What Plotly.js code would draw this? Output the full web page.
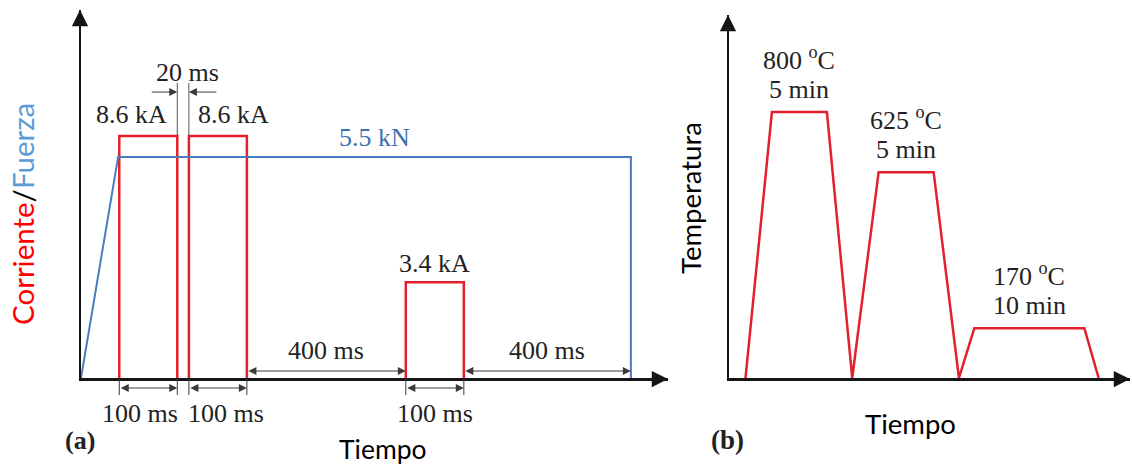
<!DOCTYPE html>
<html>
<head>
<meta charset="utf-8">
<script src="https://cdn.plot.ly/plotly-3.0.1.min.js"></script>
<style>
  html, body { margin: 0; padding: 0; background: #fff; }
  #chart { width: 1132px; height: 468px; }
</style>
</head>
<body>
<div id="chart"></div>
<script>
// ---- (a) weld schedule: current pulses and electrode force ----
// time in ms; the two 400 ms idle stretches are drawn shortened (schematic)
const pulseStart = [66, 186, 560];
const pulseEnd   = [166, 286, 660];
const pulseKA    = [8.6, 8.6, 3.4];
const forceT     = [0, 64, 948, 948];
const forceKN    = [0, 5.5, 5.5, 0];
const idleMs     = [400, 400];

// ---- (b) heat treatment cycle ----
const heatMin = [1.5, 3.9, 8.9, 11.2, 13.6, 18.6, 20.9, 22.3, 32.3, 33.6];
const heatC   = [25, 800, 800, 25, 625, 625, 25, 170, 170, 25];
const holdC   = [800, 625, 170];
const holdMin = [5, 5, 10];
const holdIdx = [1, 4, 7];   // first point of each hold in heatMin/heatC

// ---- page geometry (pixels) ----
const W = 1132, H = 468;
const px = x => x / W;
const py = y => 1 - y / H;
const A = {l: 81, r: 668, t: 10, b: 378};
const B = {l: 729, r: 1130, t: 15, b: 378};
const tMaxA = 1012, iMax = 13.08, fMax = 9.16;
const tMaxB = 36.45, cMin = 25, cMax = 1083;
const kA = p => p * iMax / (A.b - A.t);   // pixel offset -> kA units
const kN = p => p * fMax / (A.b - A.t);   // pixel offset -> kN units

const RED = '#e3202c', BLUE = '#4a7cbc', INK = '#151515', DIM = '#3a3a3a', TXT = '#222';
const SERIF = 'Liberation Serif, Times New Roman, serif';
const SANS = 'Lato, Open Sans, sans-serif';

// ---- traces ----
const traces = [];
traces.push({x: forceT, y: forceKN, xaxis: 'x', yaxis: 'y2', mode: 'lines',
  line: {color: BLUE, width: 2}, cliponaxis: false, hoverinfo: 'skip'});
pulseStart.forEach((s, i) => {
  const e = pulseEnd[i], v = pulseKA[i];
  traces.push({x: [s, s, e, e], y: [0, v, v, 0], xaxis: 'x', yaxis: 'y', mode: 'lines',
    line: {color: RED, width: 2.5}, cliponaxis: false, hoverinfo: 'skip'});
});
traces.push({x: heatMin, y: heatC, xaxis: 'x2', yaxis: 'y3', mode: 'lines',
  line: {color: RED, width: 2.5}, cliponaxis: false, hoverinfo: 'skip'});

// ---- helpers ----
function text(t, xr, yr, x, y, extra) {
  return Object.assign({xref: xr, yref: yr, x: x, y: y, text: t, showarrow: false,
    xanchor: 'center', yanchor: 'middle',
    font: {family: SERIF, size: 26, color: TXT}}, extra || {});
}
function dimLine(x0, x1, y, yr) {
  return {xref: 'x', yref: yr, axref: 'x', ayref: yr, x: x1, y: y, ax: x0, ay: y,
    text: '', showarrow: true, arrowside: 'end+start', arrowhead: 2, startarrowhead: 2,
    arrowsize: 1.6, startarrowsize: 1.6, arrowwidth: 1, arrowcolor: DIM,
    standoff: 0, startstandoff: 0};
}
function axisHead(x, y, ax, ay) {
  return {xref: 'paper', yref: 'paper', x: x, y: y, ax: ax, ay: ay, text: '',
    showarrow: true, arrowhead: 2, arrowsize: 1.3, arrowwidth: 2.5, arrowcolor: INK};
}

const ann = [];
const shapes = [];

// axis arrowheads
ann.push(axisHead(px(A.r), py(A.b + 1), -14, 0));
ann.push(axisHead(px(A.l - 1), py(A.t), 0, 14));
ann.push(axisHead(px(B.r), py(B.b + 1), -14, 0));
ann.push(axisHead(px(B.l - 1), py(B.t), 0, 14));

// pulse widths below the time axis
pulseStart.forEach((s, i) => {
  const e = pulseEnd[i];
  ann.push(dimLine(s, e, py(388), 'paper'));
  [s, e].forEach(xe => shapes.push({type: 'line', xref: 'x', yref: 'paper',
    x0: xe, x1: xe, y0: py(379), y1: py(395), line: {color: DIM, width: 1}}));
  const shiftX = [-8, 8, 0][i];
  ann.push(text((e - s) + ' ms', 'x', 'paper', (s + e) / 2, py(413), {xshift: shiftX}));
});

// idle stretches above the time axis
const idleFrom = [pulseEnd[1], pulseEnd[2]];
const idleTo = [pulseStart[2], forceT[2]];
idleFrom.forEach((a, i) => {
  const b = idleTo[i];
  ann.push(dimLine(a, b, kA(7), 'y'));
  ann.push(text(idleMs[i] + ' ms', 'x', 'y', (a + b) / 2, kA(28)));
});

// gap between the first two pulses
const gapMs = pulseStart[1] - pulseEnd[0];
[pulseEnd[0], pulseStart[1]].forEach(xe => shapes.push({type: 'line', xref: 'x', yref: 'y',
  ysizemode: 'pixel', yanchor: pulseKA[0], x0: xe, x1: xe, y0: 0, y1: 53,
  line: {color: '#555', width: 1}}));
ann.push({xref: 'x', yref: 'y', x: pulseEnd[0], y: pulseKA[0] + kA(44), ax: -27, ay: 0,
  text: '', showarrow: true, arrowhead: 2, arrowsize: 1.6, arrowwidth: 1, arrowcolor: DIM});
ann.push({xref: 'x', yref: 'y', x: pulseStart[1], y: pulseKA[0] + kA(44), ax: 29, ay: 0,
  text: '', showarrow: true, arrowhead: 2, arrowsize: 1.6, arrowwidth: 1, arrowcolor: DIM});
ann.push(text(gapMs + ' ms', 'x', 'y', (pulseEnd[0] + pulseStart[1]) / 2, pulseKA[0] + kA(64),
  {xshift: 4}));

// pulse amplitudes
ann.push(text(pulseKA[0].toFixed(1) + ' kA', 'x', 'y', pulseEnd[0], pulseKA[0] + kA(22),
  {xanchor: 'right', xshift: -8}));
ann.push(text(pulseKA[1].toFixed(1) + ' kA', 'x', 'y', pulseStart[1], pulseKA[1] + kA(22),
  {xanchor: 'left', xshift: 7}));
ann.push(text(pulseKA[2].toFixed(1) + ' kA', 'x', 'y', (pulseStart[2] + pulseEnd[2]) / 2,
  pulseKA[2] + kA(19)));
ann.push(text(forceKN[1].toFixed(1) + ' kN', 'x', 'y2', (forceT[1] + forceT[2]) / 2,
  forceKN[1] + kN(20), {font: {family: SERIF, size: 26, color: '#3c70b0'}}));

// panel (a) titles
ann.push(text('<b>(a)</b>', 'paper', 'paper', px(80), py(440), {font: {family: SERIF, size: 26, color: TXT}}));
ann.push(text('Tiempo', 'paper', 'paper', px(383), py(449), {font: {family: SANS, size: 26.5, color: '#000'}}));
ann.push(text('<span style="color:#ff0000">Corriente</span>/<span style="color:#5b9bd5">Fuerza</span>',
  'paper', 'paper', px(23), py(214), {textangle: -90, font: {family: SANS, size: 29.5, color: '#000'}}));

// panel (b) hold labels: temperature above, duration below
holdIdx.forEach((k, i) => {
  const xm = (heatMin[k] + heatMin[k + 1]) / 2;
  ann.push(text(holdC[i] + ' <sup>o</sup>C', 'x2', 'y3', xm, heatC[k], {yshift: 54}));
  ann.push(text(holdMin[i] + ' min', 'x2', 'y3', xm, heatC[k], {yshift: 23}));
});
ann.push(text('<b>(b)</b>', 'paper', 'paper', px(727), py(440), {font: {family: SERIF, size: 27, color: TXT}}));
ann.push(text('Tiempo', 'paper', 'paper', px(911), py(423), {font: {family: SANS, size: 27.5, color: '#000'}}));
ann.push(text('Temperatura', 'paper', 'paper', px(690), py(198),
  {textangle: -90, font: {family: SANS, size: 27.5, color: '#000'}}));

const axisLine = {showline: true, linecolor: INK, linewidth: 2.5, showgrid: false, zeroline: false,
  showticklabels: false, ticks: '', fixedrange: true};

const layout = {
  width: W, height: H,
  margin: {l: 0, r: 0, t: 0, b: 0, pad: 0},
  paper_bgcolor: '#fff', plot_bgcolor: 'rgba(0,0,0,0)',
  showlegend: false,
  xaxis: Object.assign({}, axisLine, {domain: [px(A.l), px(A.r)], range: [0, tMaxA], anchor: 'y'}),
  yaxis: Object.assign({}, axisLine, {domain: [py(A.b), py(A.t)], range: [0, iMax], anchor: 'x'}),
  yaxis2: {overlaying: 'y', range: [0, fMax], visible: false, anchor: 'x', fixedrange: true},
  xaxis2: Object.assign({}, axisLine, {domain: [px(B.l), px(B.r)], range: [0, tMaxB], anchor: 'y3'}),
  yaxis3: Object.assign({}, axisLine, {domain: [py(B.b), py(B.t)], range: [cMin, cMax], anchor: 'x2'}),
  annotations: ann,
  shapes: shapes
};

Plotly.newPlot('chart', traces, layout, {staticPlot: true, displayModeBar: false});
</script>
</body>
</html>
